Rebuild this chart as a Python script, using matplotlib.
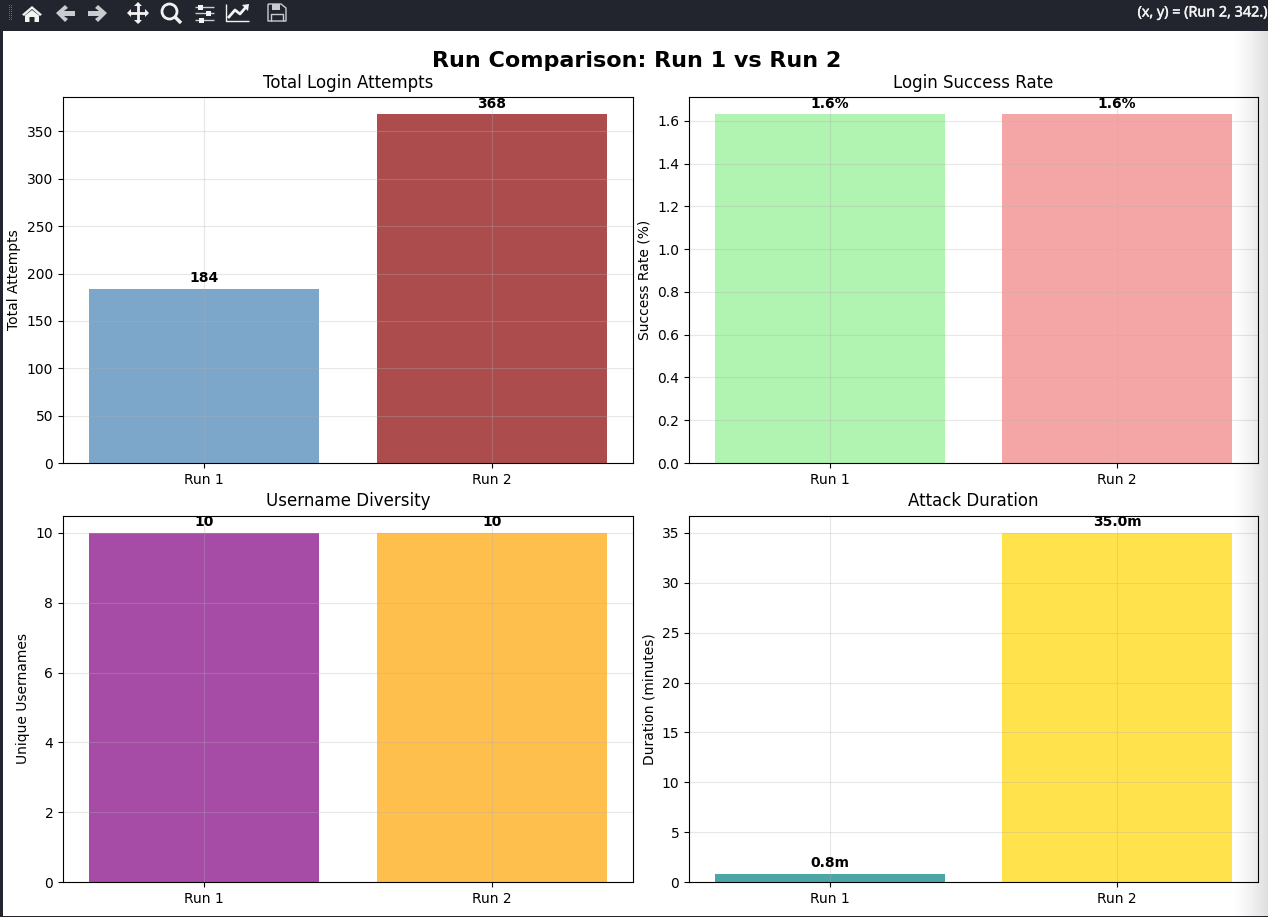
import numpy as np
import matplotlib
matplotlib.use("Agg")
import matplotlib.pyplot as plt
import matplotlib.patheffects as pe
from matplotlib.patches import Rectangle, Polygon, Circle

W, H = 1268, 917

runs = ["Run 1", "Run 2"]
attempts = [184, 368]
success_rate = [1.63, 1.63]
usernames = [10, 10]
duration = [0.8, 35.0]

titles = ["Total Login Attempts", "Login Success Rate", "Username Diversity", "Attack Duration"]
ylabels = ["Total Attempts", "Success Rate (%)", "Unique Usernames", "Duration (minutes)"]
colors = [("steelblue", "darkred"), ("lightgreen", "lightcoral"), ("purple", "orange"), ("teal", "gold")]
formats = ["{:.0f}", "{:.1f}%", "{:.0f}", "{:.1f}m"]
series = [attempts, success_rate, usernames, duration]

# Panel boxes as left, right, top, bottom in pixels
boxes = [(63, 633, 97, 463), (689, 1258, 97, 463), (63, 633, 515.5, 882), (689, 1258, 515.5, 882)]

fig = plt.figure(figsize=(W / 100, H / 100), dpi=100, facecolor="white")

for box, vals, cols, title, ylabel, fmt in zip(boxes, series, colors, titles, ylabels, formats):
    l, r, t, b = box
    ax = fig.add_axes([l / W, 1 - b / H, (r - l) / W, (b - t) / H])
    bars = ax.bar(runs, vals, color=cols, alpha=0.7)
    ax.set_title(title, fontsize=12, pad=6.5)
    ax.set_ylabel(ylabel, fontsize=10, labelpad=4)
    ax.grid(True, alpha=0.3)
    for bar, v in zip(bars, vals):
        ax.annotate(fmt.format(v), (bar.get_x() + bar.get_width() / 2, v),
                    xytext=(0, 2.8), textcoords="offset points",
                    ha="center", va="bottom", fontweight="bold", fontsize=10)

fig.text(637 / W, 1 - 61.3 / H, "Run Comparison: Run 1 vs Run 2",
         fontsize=16, fontweight="bold", ha="center", va="center")

# Window chrome drawn on a pixel-addressed overlay
ui = fig.add_axes([0, 0, 1, 1], zorder=10)
ui.set_xlim(0, W)
ui.set_ylim(H, 0)
ui.axis("off")
ui.patch.set_alpha(0)

# Soft shadow fading in along the right side
ramp = np.zeros((2, 256, 4))
ramp[..., 3] = np.linspace(0, 1, 256) ** 1.3 * 0.13
ui.imshow(ramp, extent=(1232, W, H, 31), aspect="auto", zorder=1, interpolation="bilinear")
ui.set_xlim(0, W)
ui.set_ylim(H, 0)

dark = "#22252e"
icon = "#f2f2f2"
soft = "#c9cbcf"
ui.add_patch(Rectangle((0, 0), W, 31, fc=dark, ec="none", zorder=2))
ui.add_patch(Rectangle((0, 0), 3, H, fc=dark, ec="none", zorder=2))
ui.add_patch(Rectangle((0, 915.5), W, 1.5, fc=dark, ec="none", zorder=2))

# Toolbar grip
for gx in (9, 11):
    for gy in np.arange(5, 21, 2):
        ui.add_patch(Rectangle((gx - 0.5, gy), 1.2, 1.2, fc="#6a6d75", ec="none", zorder=3))


def poly(pts, fc=icon):
    ui.add_patch(Polygon(pts, closed=True, fc=fc, ec="none", zorder=3))


def stroke(xs, ys, lw=1.5, c=icon):
    ui.plot(xs, ys, color=c, lw=lw, zorder=3, solid_capstyle="butt")


# Home
poly([(22, 14.5), (32, 6), (42, 14.5), (40, 16), (32, 9), (24, 16)])
poly([(25, 15.5), (32, 10), (39, 15.5), (39, 22), (34.5, 22), (34.5, 17), (29.5, 17), (29.5, 22), (25, 22)])

# Back and forward arrows
poly([(56, 13), (65, 5), (68, 8), (64, 11), (75, 11), (75, 16), (64, 16), (68, 19), (65, 22)], fc=soft)
poly([(107, 13), (98, 5), (95, 8), (99, 11), (88, 11), (88, 16), (99, 16), (95, 19), (98, 22)], fc=soft)

# Pan
stroke([129, 147], [13, 13], lw=2)
stroke([138, 138], [4, 22], lw=2)
poly([(127, 13), (131, 9), (131, 17)])
poly([(149, 13), (145, 9), (145, 17)])
poly([(138, 2), (134, 6), (142, 6)])
poly([(138, 24), (134, 20), (142, 20)])

# Zoom
ui.add_patch(Circle((169.5, 11.5), 7.5, fc="none", ec=icon, lw=2, zorder=3))
stroke([175, 181], [17, 23], lw=2.5)

# Sliders
for sy, sx in zip((7, 13, 20), (200, 208, 201)):
    stroke([195, 214], [sy, sy], lw=1, c=soft)
    ui.add_patch(Rectangle((sx - 2.5, sy - 2.5), 5, 5, fc=icon, ec="none", zorder=3))

# Subplot-configure chart icon
stroke([226, 226, 249], [4, 21, 21], lw=1, c=icon)
stroke([228, 235, 240, 246], [18, 10, 14, 7], lw=2)
poly([(242, 5), (249, 4), (248, 11)])

# Save
stroke([268, 281, 286, 286, 268, 268], [4, 4, 8, 21, 21, 4], lw=1, c=soft)
ui.add_patch(Rectangle((272, 4), 8, 6, fc=soft, ec="none", zorder=3))
stroke([271, 271, 283, 283], [21, 14, 14, 21], lw=1, c=soft)

coord = ui.text(1267, 13, "(x, y) = (Run 2, 342.)", color="#f4f4f4", fontsize=10.4,
                family="Open Sans", ha="right", va="center", zorder=3)
coord.set_path_effects([pe.withStroke(linewidth=0.4, foreground="#f4f4f4")])

fig.savefig("out.png", dpi=100)
